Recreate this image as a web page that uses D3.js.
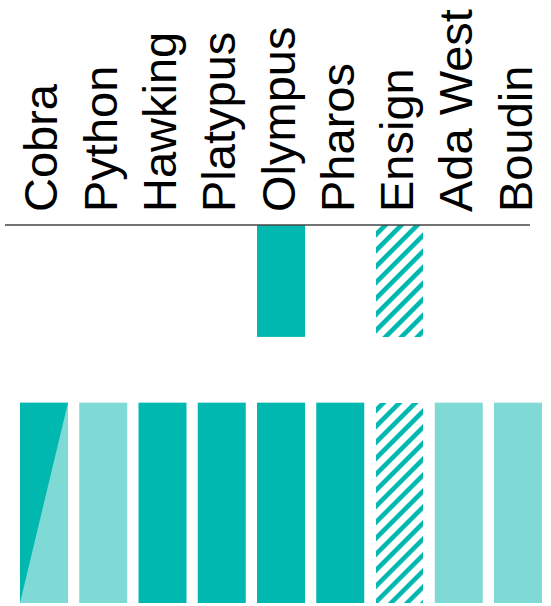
<!DOCTYPE html>
<html><head><meta charset="utf-8">
<script src="https://cdn.jsdelivr.net/npm/d3@7"></script>
<style>html,body{margin:0;padding:0;background:#fff;}</style>
</head><body>
<script>
// Categories (columns)
const categories = ["Cobra","Python","Hawking","Platypus","Olympus","Pharos","Ensign","Ada West","Boudin"];
// Rows: span of each row on the value axis
const rowNames = ["row1","row2"];
const rowStart = [0, 4.7];
const rowEnd   = [2.96, 10];
// Status of each cell per row ("" = empty)
const row1Status = ["","","","","dark","","hatch","",""];
const row2Status = ["split","light","dark","dark","dark","dark","hatch","light","light"];

const W = 551, H = 606;
const DARK = "#00B8B0", LIGHT = "#7FD9D4";

const svg = d3.select("body").append("svg").attr("width", W).attr("height", H);
const defs = svg.append("defs");
const pat = defs.append("pattern").attr("id","hatch").attr("patternUnits","userSpaceOnUse")
  .attr("width", 11.3).attr("height", 11.3).attr("patternTransform","rotate(45)");
pat.append("rect").attr("width",11.3).attr("height",11.3).attr("fill","#fff");
pat.append("rect").attr("x",0).attr("width",4.6).attr("height",11.3).attr("fill",DARK);

const x = d3.scaleBand().domain(categories).range([20, 542]).paddingInner(0.19).paddingOuter(0);
const y = d3.scaleLinear().domain([0, 10]).range([225, 603]);

const rows = [row1Status, row2Status];
rows.forEach((statuses, ri) => {
  const g = svg.append("g");
  categories.forEach((c, i) => {
    const s = statuses[i];
    if (!s) return;
    const x0 = x(c), bw = x.bandwidth();
    const y0 = y(rowStart[ri]), y1 = y(rowEnd[ri]);
    if (s === "split") {
      g.append("rect").attr("x", x0).attr("y", y0).attr("width", bw).attr("height", y1 - y0).attr("fill", LIGHT);
      g.append("path").attr("d", `M${x0},${y0}L${x0+bw},${y0}L${x0},${y1}Z`).attr("fill", DARK);
    } else {
      g.append("rect").attr("x", x0).attr("y", y0).attr("width", bw).attr("height", y1 - y0)
        .attr("fill", s === "dark" ? DARK : s === "light" ? LIGHT : "url(#hatch)")
        .attr("shape-rendering", s === "hatch" ? "crispEdges" : null);
    }
  });
});

// Axis line
svg.append("line").attr("x1", 5).attr("x2", 530).attr("y1", 225).attr("y2", 225)
  .attr("stroke", "#444").attr("stroke-width", 1.6);

// Labels
svg.append("g").selectAll("text").data(categories).join("text")
  .attr("transform", d => `translate(${x(d) + x.bandwidth()/2 + 13.5},212) rotate(-90)`)
  .attr("font-family", "Liberation Sans, Arial, sans-serif")
  .attr("font-size", 47)
  .attr("fill", "#000")
  .text(d => d);
</script>
</body></html>
